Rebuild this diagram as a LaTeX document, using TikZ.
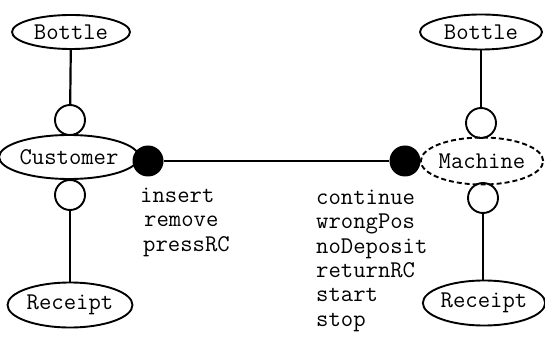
\documentclass[tikz,border=0pt]{standalone}
\usetikzlibrary{shapes.geometric}
\begin{document}
\begin{tikzpicture}[x=1pt,y=-1pt,
  comp/.style={ellipse,draw,line width=1.9pt,inner sep=0pt,font=\ttfamily\fontsize{24}{24}\selectfont},
  port/.style={circle,draw,line width=1.9pt,minimum size=30pt,inner sep=0pt},
  gate/.style={circle,fill=black,minimum size=31pt,inner sep=0pt},
  link/.style={line width=2.2pt},
  msgs/.style={font=\ttfamily\fontsize{24}{24.3}\selectfont,align=left,anchor=north west,inner sep=0pt}]
\useasboundingbox (0,0) rectangle (545,344);
% customer side
\node[comp,minimum width=118pt,minimum height=34pt] (cbottle) at (71,32) {Bottle};
\node[comp,minimum width=126pt,minimum height=44pt] (cust) at (69,157) {Customer};
\node[comp,minimum width=125pt,minimum height=45pt] (creceipt) at (70,305) {Receipt};
\node[port] (cp1) at (70,120) {};
\node[port] (cp2) at (70,195) {};
\node[gate] (cg) at (148,161) {};
% machine side
\node[comp,minimum width=122pt,minimum height=35pt] (mbottle) at (481,32) {Bottle};
\node[comp,dash pattern=on 5pt off 3pt,minimum width=121pt,minimum height=47pt] (mach) at (482,161) {Machine};
\node[comp,minimum width=115pt,minimum height=45pt] (mreceipt) at (484,303) {Receipt};
\node[port] (mp1) at (481,123) {};
\node[port] (mp2) at (483,198) {};
\node[gate] (mg) at (405,161) {};
% connectors
\draw[link] (cbottle) -- (cp1);
\draw[link] (cp2) -- (creceipt);
\draw[link] (mbottle) -- (mp1);
\draw[link] (mp2.south) -- (mp2.south |- mreceipt.north);
\draw[link] (cg) -- (mg);
% message lists
\node[msgs] (cmsg) at (140,188) {insert\\\hspace{4pt}remove\\\hspace{3pt}pressRC};
\node[msgs] (mmsg) at (316,190) {continue\\wrongPos\\noDeposit\\returnRC\\start\\stop};
\end{tikzpicture}
\end{document}
